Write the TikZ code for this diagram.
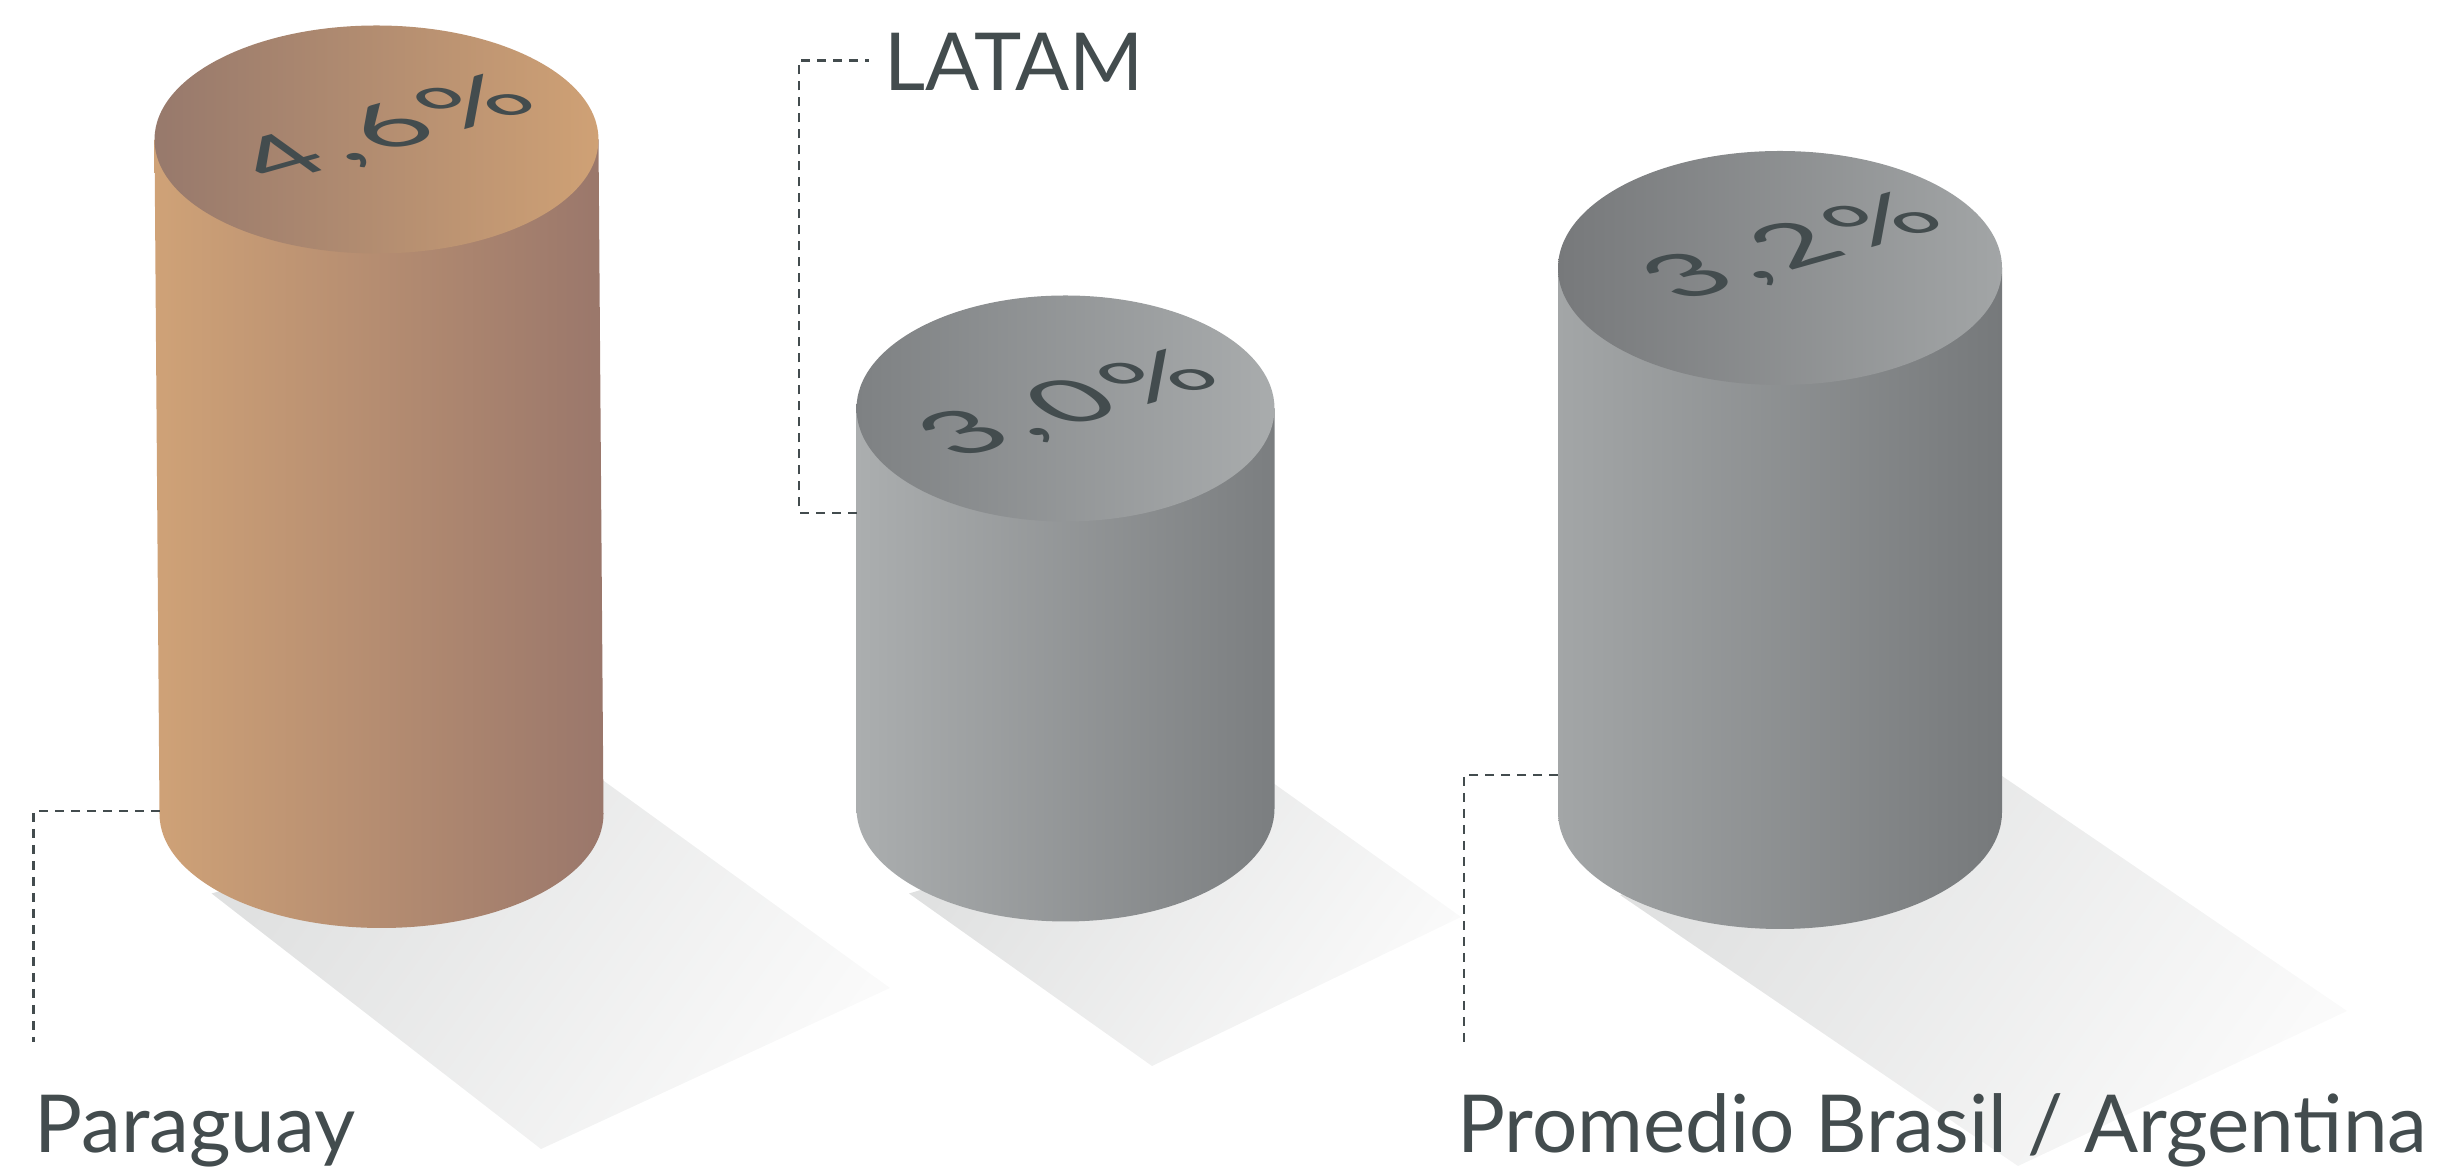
\documentclass[tikz,border=0pt]{standalone}
\usepackage{fontspec}
\setmainfont{Lato}
\newfontfamily\pctfont[LetterSpace=8]{Lato}
\definecolor{txtc}{HTML}{434C4E}
\definecolor{shA}{HTML}{E0E1E1}
\definecolor{shB}{HTML}{FAFAFA}
\definecolor{cAbl}{HTML}{CFA277}
\definecolor{cAbr}{HTML}{9A776B}
\definecolor{cAtl}{HTML}{97796C}
\definecolor{cAtr}{HTML}{CFA175}
\definecolor{cBbl}{HTML}{ABAEAF}
\definecolor{cBbr}{HTML}{7B7E80}
\definecolor{cBtl}{HTML}{7E8183}
\definecolor{cBtr}{HTML}{A9ACAD}
\definecolor{cCbl}{HTML}{A3A6A7}
\definecolor{cCbr}{HTML}{76797B}
\definecolor{cCtl}{HTML}{77797B}
\definecolor{cCtr}{HTML}{A2A5A6}
\begin{document}
\begin{tikzpicture}[x=0.5pt,y=0.5pt,
  lbl/.style={text=txtc, inner sep=0pt, font=\fontsize{40}{48}\selectfont},
  pct/.style={transform shape, text=txtc, inner sep=0pt, font=\pctfont\fontsize{66}{78}\selectfont},
  guide/.style={draw=txtc, line width=1.4pt, dash pattern=on 4.5pt off 3.5pt},
  shadowfill/.style={shading=axis, top color=shA, bottom color=shB, shading angle=54}]
\useasboundingbox (0,0) rectangle (2458,1171);

% shadows
\shade[shadowfill] (211.6,277.5) -- (541,22) -- (890,183) -- (603.5,390.3) -- cycle;
\shade[shadowfill] (909,277.5) -- (1152,105) -- (1461,254) -- (1274.5,387) -- cycle;
\shade[shadowfill] (1620,276) -- (2018,5) -- (2347,160) -- (2002,395) -- cycle;

% cylinder 1 (Paraguay)
\shade[left color=cAbl, right color=cAbr] (154.5,1031.5) -- (159.5,357)
  arc[start angle=180, end angle=360, x radius=222, y radius=114] -- (598.5,1031.5) -- cycle;
\shade[left color=cAtl, right color=cAtr] (376.5,1031.5) ellipse [x radius=222, y radius=114];

% cylinder 2 (LATAM)
\shade[left color=cBbl, right color=cBbr] (856.5,762.5) -- (856.5,362.5)
  arc[start angle=180, end angle=360, x radius=209, y radius=113] -- (1274.5,762.5) -- cycle;
\shade[left color=cBtl, right color=cBtr] (1065.5,762.5) ellipse [x radius=209, y radius=113];

% cylinder 3 (Promedio)
\shade[left color=cCbl, right color=cCbr] (1558,903) -- (1558,359)
  arc[start angle=180, end angle=360, x radius=222, y radius=117] -- (2002,903) -- cycle;
\shade[left color=cCtl, right color=cCtr] (1780,903) ellipse [x radius=222, y radius=117];

% values on the tops
\begin{scope}[shift={(388,1040)}, yscale=0.45]
  \node[pct, rotate=32] (v1) {4,6\%};
\end{scope}
\begin{scope}[shift={(1071,765)}, yscale=0.45]
  \node[pct, rotate=32] (v2) {3,0\%};
\end{scope}
\begin{scope}[shift={(1795,922)}, yscale=0.45]
  \node[pct, rotate=32] (v3) {3,2\%};
\end{scope}

% labels
\node[lbl, anchor=base west] (paraguay) at (34,18.3) {Paraguay};
\node[lbl, anchor=base west] (latam) at (884,1080.3) {LATAM};
\node[lbl, anchor=base west] (promedio) at (1457,18.3) {Promedio Brasil / Argentina};

% guide lines
\coordinate (g1a) at (159.5,360);
\coordinate (g1b) at (33.5,129);
\coordinate (g2a) at (856.5,658);
\coordinate (g2b) at (869,1110.3);
\coordinate (g3a) at (1558,396);
\coordinate (g3b) at (1464,128);
\draw[guide] (g1a) -| (g1b);
\draw[guide] (g2a) -- (799,658) |- (g2b);
\draw[guide] (g3a) -| (g3b);
\end{tikzpicture}
\end{document}
